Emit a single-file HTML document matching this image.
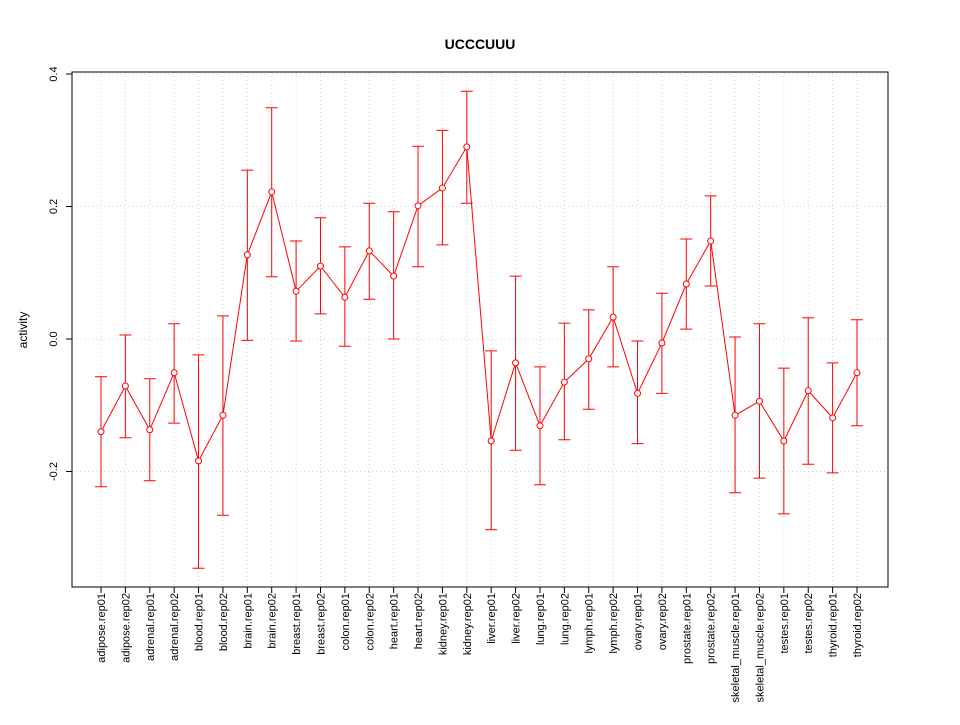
<!DOCTYPE html>
<html><head><meta charset="utf-8"><style>
html,body{margin:0;padding:0;background:#fff;}
svg text{font-family:"Liberation Sans",sans-serif;}
</style></head><body>
<svg id="chart" width="960" height="720" xmlns="http://www.w3.org/2000/svg">
<text x="480" y="49" text-anchor="middle" font-size="14" font-weight="bold">UCCCUUU</text>
<text transform="translate(27,330) rotate(-90)" text-anchor="middle" font-size="12">activity</text>
<g id="grid"></g><g id="axes"></g><g id="marks"></g>
</svg>
<script>
const categories=["adipose.rep01","adipose.rep02","adrenal.rep01","adrenal.rep02","blood.rep01","blood.rep02","brain.rep01","brain.rep02","breast.rep01","breast.rep02","colon.rep01","colon.rep02","heart.rep01","heart.rep02","kidney.rep01","kidney.rep02","liver.rep01","liver.rep02","lung.rep01","lung.rep02","lymph.rep01","lymph.rep02","ovary.rep01","ovary.rep02","prostate.rep01","prostate.rep02","skeletal_muscle.rep01","skeletal_muscle.rep02","testes.rep01","testes.rep02","thyroid.rep01","thyroid.rep02"];
const values=[-0.140,-0.071,-0.137,-0.051,-0.184,-0.115,0.127,0.222,0.072,0.110,0.063,0.133,0.095,0.201,0.228,0.290,-0.154,-0.036,-0.131,-0.065,-0.030,0.033,-0.082,-0.006,0.083,0.148,-0.115,-0.094,-0.154,-0.078,-0.119,-0.051];
const upper=[-0.057,0.006,-0.060,0.023,-0.024,0.035,0.255,0.349,0.148,0.183,0.139,0.205,0.192,0.291,0.315,0.374,-0.018,0.095,-0.042,0.024,0.044,0.109,-0.003,0.069,0.151,0.216,0.003,0.023,-0.044,0.032,-0.036,0.029];
const lower=[-0.223,-0.149,-0.214,-0.127,-0.346,-0.266,-0.002,0.094,-0.003,0.038,-0.011,0.060,0.0,0.109,0.142,0.205,-0.288,-0.168,-0.220,-0.152,-0.106,-0.042,-0.158,-0.082,0.015,0.080,-0.232,-0.210,-0.264,-0.189,-0.202,-0.131];
const yTicks=[-0.2,0.0,0.2,0.4];
const yTickLabels=["-0.2","0.0","0.2","0.4"];
const NS="http://www.w3.org/2000/svg";
const L=72,R=888,T=72,B=587;
function y(v){return 339-v*662.5;}
function x(i){return 101+i*(857-101)/(categories.length-1);}
function mk(tag,attrs,parent){const e=document.createElementNS(NS,tag);for(const k in attrs)e.setAttribute(k,attrs[k]);parent.appendChild(e);return e;}
const grid=document.getElementById('grid'),axes=document.getElementById('axes'),marks=document.getElementById('marks');
categories.forEach((c,i)=>{
 const g=mk('line',{x1:x(i),x2:x(i),y1:T,y2:B,stroke:'#d3d3d3','stroke-dasharray':'1,3'},grid);
 
 
 const t=mk('line',{x1:x(i),x2:x(i),y1:B,y2:B+6,stroke:'#000'},axes);
 
 
 const lb=mk('text',{transform:`translate(${x(i)+4},${B+6}) rotate(-90)`,'text-anchor':'end','font-size':'11'},axes);
 lb.textContent=c;
 
 
});
yTicks.forEach((v,i)=>{
 const g=mk('line',{x1:L,x2:R,y1:y(v),y2:y(v),stroke:'#d3d3d3','stroke-dasharray':'1,3'},grid);
 
 
 const t=mk('line',{x1:L-6,x2:L,y1:y(v),y2:y(v),stroke:'#000'},axes);
 
 
 const lb=mk('text',{transform:`translate(${L-15},${y(v)}) rotate(-90)`,'text-anchor':'middle','font-size':'11'},axes);
 lb.textContent=yTickLabels[i];
 
 
});
const box=mk('rect',{x:L,y:T,width:R-L,height:B-T,fill:'none',stroke:'#000'},axes);


const pl=mk('polyline',{points:values.map((v,i)=>x(i)+','+y(v)).join(' '),fill:'none',stroke:'#ff0000'},marks);


values.forEach((v,i)=>{
 const xi=x(i);
 const e=mk('path',{d:`M${xi},${y(upper[i])}V${y(lower[i])}M${xi-6},${y(upper[i])}H${xi+6}M${xi-6},${y(lower[i])}H${xi+6}`,stroke:'#ff0000',fill:'none'},marks);
 
 
 const p=mk('circle',{cx:xi,cy:y(v),r:3,fill:'#fff',stroke:'#ff0000'},marks);
 
 
});
</script>
</body></html>
